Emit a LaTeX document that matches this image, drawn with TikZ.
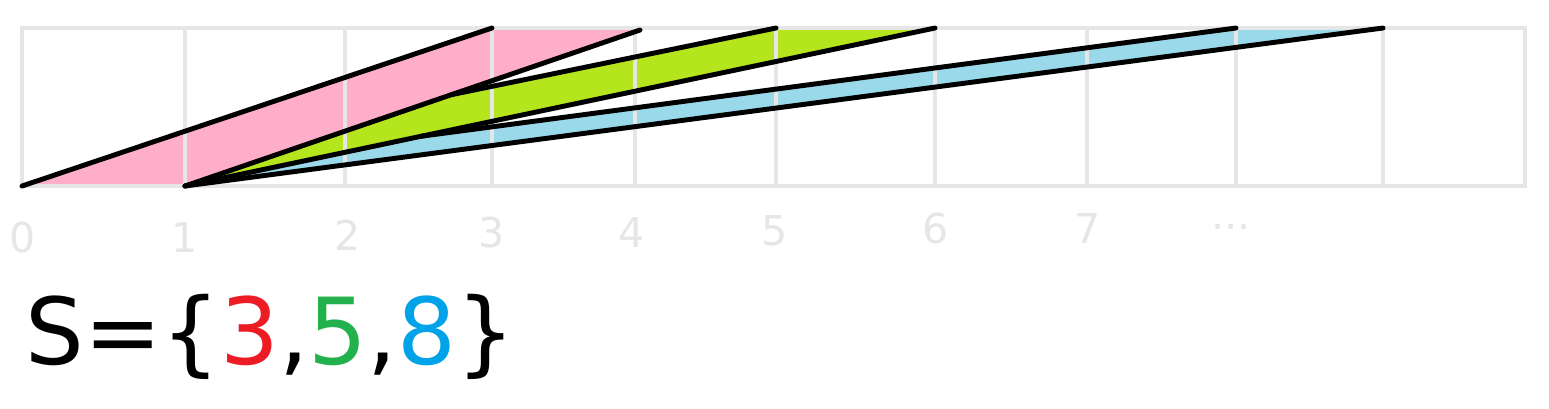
\documentclass[tikz,border=0pt]{standalone}
\usepackage{fontspec}
\setmainfont{DejaVu Sans}
\usetikzlibrary{calc}

\definecolor{gridgray}{RGB}{230,230,230}
\definecolor{pinkfill}{RGB}{255,174,201}
\definecolor{greenfill}{RGB}{181,230,29}
\definecolor{bluefill}{RGB}{153,217,234}
\definecolor{setred}{RGB}{237,28,36}
\definecolor{setgreen}{RGB}{34,177,76}
\definecolor{setblue}{RGB}{0,162,232}

\begin{document}
\begin{tikzpicture}[x=0.01cm,y=-0.01cm,
    cell/.style={draw=gridgray,line width=1.1pt},
    ray/.style={line width=1.4pt,line cap=round,line join=round},
    tick/.style={text=gridgray,anchor=base,inner sep=0pt,font=\fontsize{11.7}{14}\selectfont}]
      \useasboundingbox (0,0) rectangle (1549,408);

      % 升目の端点
      \foreach \x [count=\i from 0] in {22,185,345,492,635,776,935,1087,1236,1383,1525}{
        \coordinate (t\i) at (\x,28);
        \coordinate (b\i) at (\x,186);
      }
      \coordinate (t4') at (640,30);

      % 分かれ目
      \coordinate (g) at ($(b1)!0.585!(t4')$);
      \coordinate (h) at ($(b1)!0.315!(t6)$);

      % 塗り
      \fill[pinkfill] (b0)--(t3)--(t4')--(b1)--cycle;
      \fill[greenfill] (b1)--(g)--(t5)--(t6)--cycle;
      \fill[bluefill] (b1)--(h)--(t8)--(t9)--cycle;

      % 升目
      \draw[cell] (t0) rectangle (b10);
      \foreach \i in {1,...,9}
        \draw[cell] (t\i)--(b\i);

      % 3
      \draw[ray] (b0)--(t3);
      \draw[ray] (b1)--(t4');

      % 5
      \draw[ray] (g)--(t5);
      \draw[ray] (b1)--(t6);

      % 8
      \draw[ray] (h)--(t8);
      \draw[ray] (b1)--(t9);

      % 目盛り
      \foreach \x/\y/\lab [count=\i from 0] in {23/252/0,185/252/1,348/250/2,492/247/3,
          632/247/4,775/245/5,936/243/6,1088/243/7}
        \node[tick] (n\i) at (\x,\y) {\lab};
      \node[tick] (dots) at (1231,229) {...};

      % 集合
      \node[anchor=base west,inner sep=0pt,font=\fontsize{26.3}{31}\selectfont]
        (set) at (25,364) {S=\{\textcolor{setred}{3},\textcolor{setgreen}{5},\textcolor{setblue}{8}\}};
    \end{tikzpicture}
\end{document}
